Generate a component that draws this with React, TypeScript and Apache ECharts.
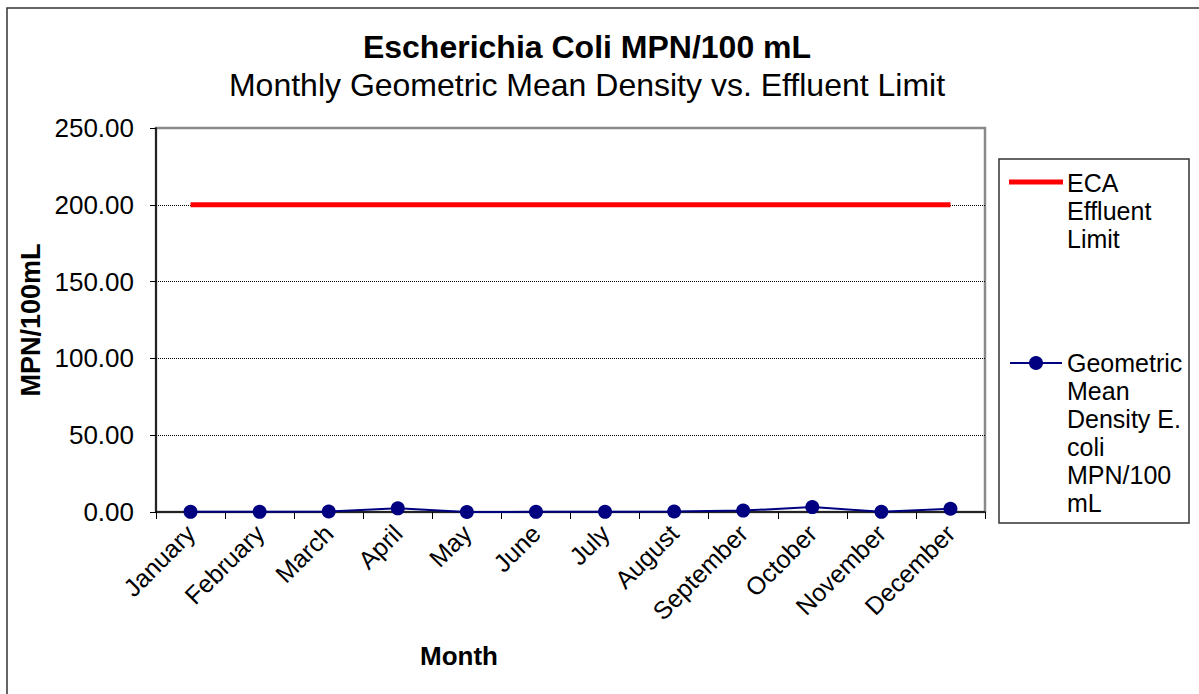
import React, { useEffect, useRef } from "react";
import * as echarts from "echarts";

const months = ["January", "February", "March", "April", "May", "June", "July", "August", "September", "October", "November", "December"];
const ecaLimit = [200, 200, 200, 200, 200, 200, 200, 200, 200, 200, 200, 200];
const geoMean = [0.1, 0.1, 0.3, 2.4, 0.0, 0.1, 0.1, 0.3, 0.9, 3.2, 0.1, 2.1];
const yTicks = { min: 0, max: 250, interval: 50 };

const FONT = "Arial, 'Liberation Sans', Helvetica, sans-serif";

export default function App() {
  const ref = useRef<HTMLDivElement>(null);
  useEffect(() => {
    document.body.style.margin = "0";
    const chart = echarts.init(ref.current!, null, { renderer: "svg" });
    const legendX = 1067;
    chart.setOption({
      animation: false,
      backgroundColor: "#ffffff",
      textStyle: { fontFamily: FONT },
      grid: { left: 156, top: 128, width: 829, height: 384, show: true, borderColor: "#8a8a8a", borderWidth: 2.5, backgroundColor: "transparent" },
      xAxis: {
        type: "category",
        data: months,
        boundaryGap: true,
        axisLine: { lineStyle: { color: "#000", width: 1.5 } },
        axisTick: { show: true, length: 7, lineStyle: { color: "#000", width: 1 } },
        axisLabel: { rotate: 45, color: "#000", fontSize: 25, fontFamily: FONT, margin: 17, interval: 0 },
        splitLine: { show: false },
      },
      yAxis: {
        type: "value",
        min: yTicks.min,
        max: yTicks.max,
        interval: yTicks.interval,
        axisLine: { show: true, lineStyle: { color: "#000", width: 1.5 } },
        axisTick: { show: true, length: 6, lineStyle: { color: "#000" } },
        axisLabel: { color: "#000", fontSize: 26, fontFamily: FONT, margin: 22, formatter: (v: number) => v.toFixed(2) },
        splitLine: { show: true, showMinLine: false, showMaxLine: false, lineStyle: { color: "#000", type: [1, 1], width: 1 } },
      },
      series: [
        {
          name: "ECA Effluent Limit",
          type: "line",
          data: ecaLimit,
          showSymbol: false,
          symbol: "none",
          lineStyle: { color: "#ff0000", width: 5 },
          itemStyle: { color: "#ff0000" },
        },
        {
          name: "Geometric Mean Density E. coli MPN/100 mL",
          type: "line",
          data: geoMean,
          symbol: "circle",
          symbolSize: 14,
          lineStyle: { color: "#000080", width: 2 },
          itemStyle: { color: "#000080" },
          z: 3,
        },
      ],
      graphic: [
        { type: "rect", shape: { x: 7, y: 8, width: 1300, height: 800 }, style: { fill: "none", stroke: "#333", lineWidth: 1.5 }, silent: true, z: -1 },
        { type: "text", x: 587, y: 47, style: { text: "Escherichia Coli MPN/100 mL", font: `bold 32px ${FONT}`, fill: "#000", textAlign: "center", textVerticalAlign: "middle" } },
        { type: "text", x: 587, y: 85, style: { text: "Monthly Geometric Mean Density vs. Effluent Limit", font: `32px ${FONT}`, fill: "#000", textAlign: "center", textVerticalAlign: "middle" } },
        { type: "text", x: 31, y: 320, rotation: Math.PI / 2, style: { text: "MPN/100mL", font: `bold 27px ${FONT}`, fill: "#000", textAlign: "center", textVerticalAlign: "middle" } },
        { type: "text", x: 459, y: 656, style: { text: "Month", font: `bold 26px ${FONT}`, fill: "#000", textAlign: "center", textVerticalAlign: "middle" } },
        { type: "rect", shape: { x: 999, y: 159, width: 190, height: 364 }, style: { fill: "#fff", stroke: "#333", lineWidth: 1.5 } },
        { type: "line", shape: { x1: 1009, y1: 182, x2: 1063, y2: 182 }, style: { stroke: "#ff0000", lineWidth: 5 } },
        { type: "text", x: legendX, y: 169, style: { text: "ECA\nEffluent\nLimit", font: `25px ${FONT}`, lineHeight: 28, fill: "#000" } },
        { type: "line", shape: { x1: 1010, y1: 363, x2: 1062, y2: 363 }, style: { stroke: "#000080", lineWidth: 2 } },
        { type: "circle", shape: { cx: 1036, cy: 363, r: 7 }, style: { fill: "#000080" } },
        { type: "text", x: legendX, y: 349, style: { text: "Geometric\nMean\nDensity E.\ncoli\nMPN/100\nmL", font: `25px ${FONT}`, lineHeight: 28, fill: "#000" } },
      ],
    });
    return () => chart.dispose();
  }, []);
  return <div ref={ref} style={{ position: "absolute", left: 0, top: 0, width: 1199, height: 694 }} />;
}
